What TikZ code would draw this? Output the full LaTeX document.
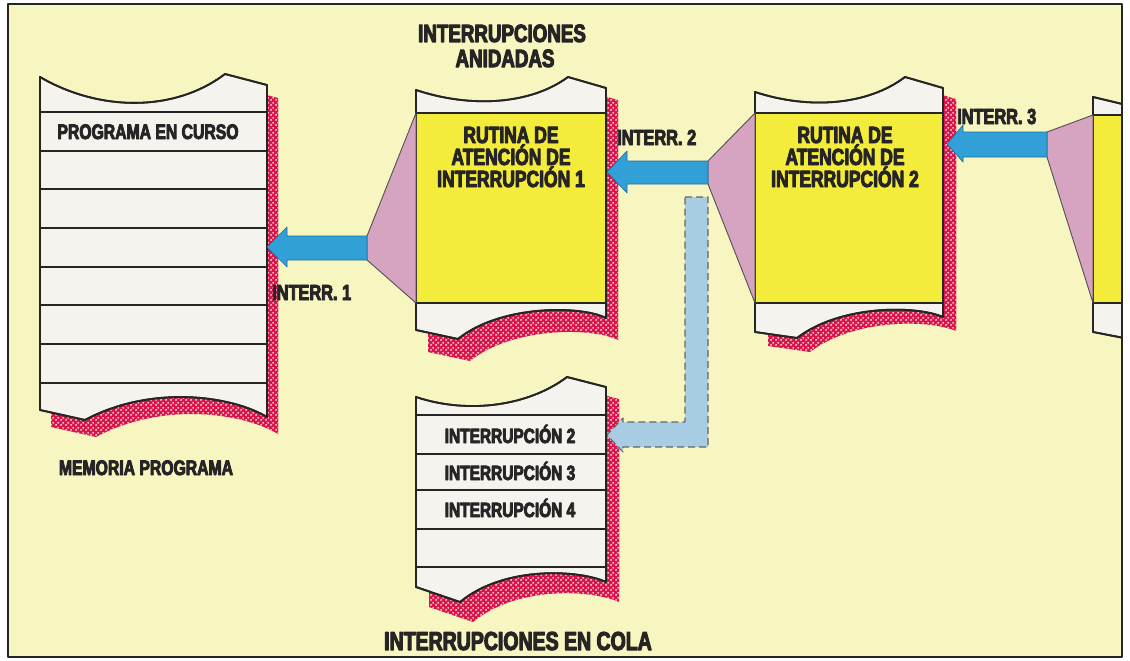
\documentclass[tikz,border=0pt]{standalone}
\usepackage{fontspec}
\newfontfamily\hv[FakeStretch=0.75,FakeBold=4]{Liberation Sans Bold}
\usetikzlibrary{patterns}
\pgfdeclarepatternformonly{mesh}{\pgfpointorigin}{\pgfpoint{5pt}{5pt}}{\pgfpoint{5pt}{5pt}}{%
  \pgfpathcircle{\pgfpoint{1.25pt}{1.25pt}}{1.15pt}%
  \pgfpathcircle{\pgfpoint{3.75pt}{3.75pt}}{1.15pt}%
  \pgfusepath{fill}}
\definecolor{bgc}{RGB}{247,245,192}
\definecolor{rowc}{RGB}{245,243,238}
\definecolor{yelc}{RGB}{243,236,58}
\definecolor{pinkc}{RGB}{214,163,193}
\definecolor{bluec}{RGB}{48,160,214}
\definecolor{blued}{RGB}{30,110,160}
\definecolor{lbluec}{RGB}{168,204,226}
\definecolor{meshred}{RGB}{218,20,72}
\definecolor{inkc}{RGB}{38,36,36}
\def\stackA{(40,77) .. controls (100,112) and (175,112) .. (225,74) -- (267,85) -- (267,417) .. controls (230,395) and (150,385) .. (85,420) -- (40,410) -- cycle}
\def\stackB{(416,90) .. controls (470,108) and (530,105) .. (568,77) -- (606,88) -- (606,318) .. controls (580,305) and (500,305) .. (458,339) -- (416,330) -- cycle}
\def\stackC{(755,92) .. controls (810,110) and (868,105) .. (905,77) -- (943,88) -- (943,317) .. controls (915,305) and (840,305) .. (797,338) -- (755,332) -- cycle}
\def\stackQ{(416,397) .. controls (470,415) and (530,405) .. (567,377) -- (606,387) -- (606,582) .. controls (580,570) and (505,565) .. (460,602) -- (416,587) -- cycle}
\begin{document}
\begin{tikzpicture}[x=1pt,y=-1pt,line join=round,
  ink/.style={draw=inkc,line width=1.8pt},
  rowline/.style={draw=inkc,line width=1.6pt},
  stackfill/.style={fill=rowc,draw=inkc,line width=1.8pt},
  shadowfill/.style={fill=meshred,postaction={pattern=mesh,pattern color=white}},
  trap/.style={fill=pinkc,draw=inkc!80,line width=0.9pt},
  barrow/.style={fill=bluec,draw=blued,line width=0.6pt},
  darrow/.style={fill=lbluec,draw=inkc!70,line width=1.1pt,dash pattern=on 7pt off 4pt},
  lbl/.style={inner sep=0pt,anchor=base,text=inkc},
  fsmall/.style={font=\hv\fontsize{21}{21}\selectfont},
  fmid/.style={font=\hv\fontsize{23.3}{23}\selectfont},
  fq/.style={font=\hv\fontsize{20.6}{21}\selectfont},
  ftitle/.style={font=\hv\fontsize{25}{25}\selectfont},
  fint/.style={font=\hv\fontsize{21.8}{22}\selectfont}]
\useasboundingbox (0,0) rectangle (1130,661);
% background
\fill[white] (0,0) rectangle (1130,661);
\fill[bgc] (8,4) rectangle (1122,657);
% shadows
\path[shadowfill,shift={(11,13)}] \stackA;
\path[shadowfill,shift={(11,17)}] \stackA;
\path[shadowfill,shift={(12,12)}] \stackB;
\path[shadowfill,shift={(12,22)}] \stackB;
\path[shadowfill,shift={(13,11)}] \stackC;
\path[shadowfill,shift={(13,14)}] \stackC;
\path[shadowfill,shift={(13,12)}] \stackQ;
\path[shadowfill,shift={(13,20)}] \stackQ;
% memory stack
\path[stackfill] \stackA;
\foreach \yy in {112,151,189,228,267,305,344,383} \draw[rowline] (40,\yy) -- (267,\yy);
\path[ink] \stackA;
% routine 1
\path[stackfill] \stackB;
\fill[yelc] (416,113) rectangle (606,303);
\draw[rowline] (416,113) -- (606,113) (416,303) -- (606,303);
\path[ink] \stackB;
% routine 2
\path[stackfill] \stackC;
\fill[yelc] (755,113) rectangle (943,303);
\draw[rowline] (755,113) -- (943,113) (755,303) -- (943,303);
\path[ink] \stackC;
% queue
\path[stackfill] \stackQ;
\foreach \yy in {415,454,490,529,567} \draw[rowline] (416,\yy) -- (606,\yy);
\path[ink] \stackQ;
% routine 3 (partly visible)
\begin{scope}
\clip (8,4) rectangle (1122,657);
\path[stackfill] (1093,97) -- (1160,113) -- (1160,345) -- (1093,332) -- cycle;
\fill[yelc] (1093,115) rectangle (1160,303);
\draw[rowline] (1093,115) -- (1160,115) (1093,303) -- (1160,303);
\draw[ink] (1160,113) -- (1093,97) -- (1093,332) -- (1160,345);
\end{scope}
% trapezoids
\draw[trap] (367,236) -- (416,113) -- (416,303) -- (367,260) -- cycle;
\draw[trap] (708,161) -- (755,113) -- (755,303) -- (708,184) -- cycle;
\draw[trap] (1047,132) -- (1093,115) -- (1093,303) -- (1047,157) -- cycle;
% arrows
\draw[barrow] (367,236) -- (287,236) -- (287,227) -- (267,247) -- (287,267) -- (287,260) -- (367,260) -- cycle;
\draw[barrow] (708,161) -- (627,161) -- (627,151) -- (607,172) -- (627,193) -- (627,184) -- (708,184) -- cycle;
\draw[barrow] (1047,132) -- (963,132) -- (963,125) -- (947,144) -- (963,162) -- (963,157) -- (1047,157) -- cycle;
\draw[darrow] (685,197) -- (708,197) -- (708,447) -- (623,447) -- (623,452) -- (607,435) -- (623,418) -- (623,422) -- (685,422) -- cycle;
% texts
\node[lbl,fsmall] (prog) at (148,139) {PROGRAMA EN CURSO};
\node[lbl,fsmall] (mem) at (146,475) {MEMORIA PROGRAMA};
\node[lbl,ftitle] (t1) at (502,42) {INTERRUPCIONES};
\node[lbl,ftitle] (t2) at (505,67) {ANIDADAS};
\node[lbl,fmid] (r1a) at (511,143) {RUTINA DE};
\node[lbl,fmid] (r1b) at (511,165) {ATENCIÓN DE};
\node[lbl,fmid] (r1c) at (511,187) {INTERRUPCIÓN 1};
\node[lbl,fmid] (r2a) at (845,143) {RUTINA DE};
\node[lbl,fmid] (r2b) at (845,165) {ATENCIÓN DE};
\node[lbl,fmid] (r2c) at (845,187) {INTERRUPCIÓN 2};
\node[lbl,fint,anchor=base west] (i1) at (272,300) {INTERR. 1};
\node[lbl,fint,anchor=base west] (i2) at (617,145) {INTERR. 2};
\node[lbl,fint,anchor=base west] (i3) at (957,124) {INTERR. 3};
\node[lbl,fq] (q2) at (510,443) {INTERRUPCIÓN 2};
\node[lbl,fq] (q3) at (510,480) {INTERRUPCIÓN 3};
\node[lbl,fq] (q4) at (510,517) {INTERRUPCIÓN 4};
\node[lbl,font=\hv\fontsize{26}{26}\selectfont] (cola) at (518,650) {INTERRUPCIONES EN COLA};
% frame
\draw[inkc,line width=2pt] (8,4) rectangle (1122,657);
\end{tikzpicture}
\end{document}
